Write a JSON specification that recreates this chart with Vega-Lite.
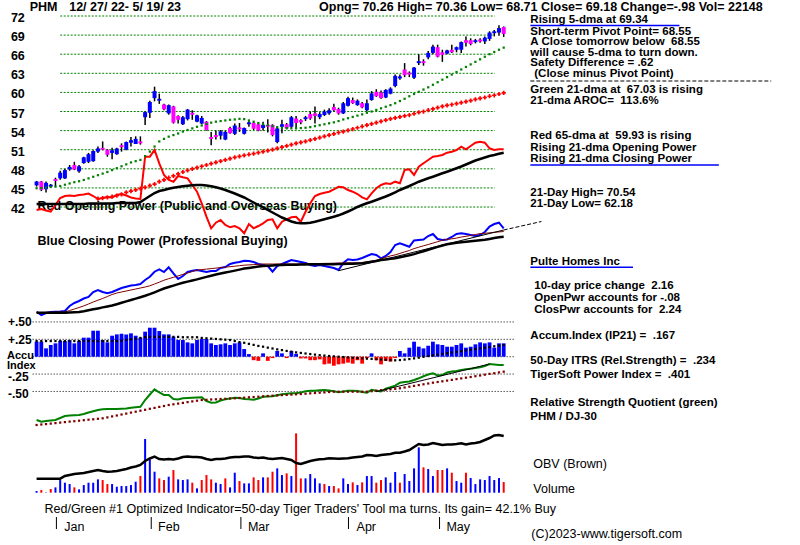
{
"$schema":"https://vega.github.io/schema/vega-lite/v6.json",
"width":800,"height":545,"padding":0,
"autosize":{"type":"fit","contains":"padding"},
"background":"white",
"config":{"view":{"stroke":null}},
"datasets":{
"d":[
{"i":0,"o":45.4,"h":46.1,"l":45.2,"c":46.0,"g":44.95,"op":10,"opm":13,"cp":9.15,"cpb":8.75,"cpk":8.65,"a":0.216,"am":0.225,"rs":10,"rsm":7.5,"v":3450,"vd":"up","ob":21.3},
{"i":1,"o":46.0,"h":46.1,"l":44.5,"c":44.7,"g":45.0,"op":10.5,"opm":13,"cp":7.5,"cpb":8.75,"cpk":8.65,"a":0.216,"am":0.225,"rs":9.15,"rsm":7.75,"v":5520,"vd":"dn","ob":21.3},
{"i":2,"o":44.8,"h":46.0,"l":44.3,"c":45.8,"g":45.05,"op":9.75,"opm":13,"cp":8.5,"cpb":8.8,"cpk":8.65,"a":0.12,"am":0.225,"rs":9.5,"rsm":7.95,"v":700,"vd":"up","ob":21.3},
{"i":3,"o":45.2,"h":45.6,"l":45.1,"c":45.5,"g":45.15,"op":9.15,"opm":13,"cp":9,"cpb":8.85,"cpk":8.65,"a":0.168,"am":0.225,"rs":9.75,"rsm":8.2,"v":7590,"vd":"dn","ob":21.3},
{"i":4,"o":46.4,"h":46.6,"l":45.2,"c":46.1,"g":45.2,"op":12.5,"opm":13,"cp":9.15,"cpb":8.9,"cpk":8.65,"a":0.192,"am":0.225,"rs":10,"rsm":8.45,"v":11040,"vd":"up","ob":21.3},
{"i":5,"o":46.5,"h":47.7,"l":46.3,"c":47.4,"g":45.3,"op":16,"opm":13,"cp":9.25,"cpb":8.95,"cpk":8.65,"a":0.23,"am":0.225,"rs":11,"rsm":8.7,"v":26220,"vd":"up","ob":21.3},
{"i":6,"o":46.5,"h":48.0,"l":46.4,"c":47.8,"g":45.5,"op":17,"opm":13,"cp":9.5,"cpb":9,"cpk":8.65,"a":0.226,"am":0.225,"rs":12,"rsm":8.95,"v":20700,"vd":"up","ob":24},
{"i":7,"o":47.9,"h":48.6,"l":47.7,"c":48.3,"g":45.7,"op":17.25,"opm":13,"cp":12,"cpb":9.75,"cpk":8.75,"a":0.24,"am":0.225,"rs":12.25,"rsm":9.2,"v":17940,"vd":"up","ob":25},
{"i":8,"o":48.6,"h":49.1,"l":47.8,"c":47.9,"g":45.9,"op":17,"opm":13,"cp":13.5,"cpb":10.5,"cpk":8.9,"a":0.192,"am":0.225,"rs":12.4,"rsm":9.4,"v":11040,"vd":"dn","ob":26},
{"i":9,"o":47.6,"h":48.6,"l":47.4,"c":48.4,"g":46.05,"op":17.5,"opm":13,"cp":14.5,"cpb":11.25,"cpk":9.05,"a":0.23,"am":0.225,"rs":12.5,"rsm":9.65,"v":6900,"vd":"up","ob":26.5},
{"i":10,"o":48.9,"h":49.9,"l":48.8,"c":49.8,"g":46.25,"op":17.75,"opm":13,"cp":15.75,"cpb":12.05,"cpk":9.35,"a":0.274,"am":0.225,"rs":13,"rsm":9.9,"v":15870,"vd":"up","ob":27},
{"i":11,"o":49.1,"h":50.5,"l":48.9,"c":50.3,"g":46.5,"op":18.25,"opm":13.25,"cp":16.5,"cpb":13,"cpk":9.85,"a":0.274,"am":0.225,"rs":13.75,"rsm":10.15,"v":20700,"vd":"up","ob":28},
{"i":12,"o":49.2,"h":50.9,"l":49.1,"c":50.8,"g":46.75,"op":17,"opm":13.25,"cp":19,"cpb":14,"cpk":10.35,"a":0.374,"am":0.225,"rs":14.4,"rsm":10.35,"v":20700,"vd":"up","ob":29},
{"i":13,"o":50.7,"h":51.5,"l":50.5,"c":51.2,"g":47.0,"r":43.3,"op":15.5,"opm":13.25,"cp":20,"cpb":14.9,"cpk":10.8,"a":0.374,"am":0.225,"rs":15,"rsm":10.6,"v":27600,"vd":"up","ob":30},
{"i":14,"o":51.3,"h":52.3,"l":50.9,"c":51.0,"g":47.25,"r":43.4,"op":16,"opm":13.25,"cp":19,"cpb":15.75,"cpk":11.3,"a":0.24,"am":0.225,"rs":15.35,"rsm":10.85,"v":26220,"vd":"dn","ob":29},
{"i":15,"o":51.0,"h":51.1,"l":49.9,"c":50.2,"g":47.5,"r":43.5,"op":16.5,"opm":13.25,"cp":18.35,"cpb":16.75,"cpk":11.75,"a":0.206,"am":0.225,"rs":15.5,"rsm":11.3,"v":17940,"vd":"dn","ob":28.3},
{"i":16,"o":50.5,"h":51.3,"l":49.5,"c":50.9,"g":47.8,"r":43.65,"op":16.25,"opm":13.25,"cp":19,"cpb":17.75,"cpk":12.25,"a":0.302,"am":0.225,"rs":15.5,"rsm":11.8,"v":17940,"vd":"up","ob":28.5},
{"i":17,"o":50.3,"h":51.3,"l":50.2,"c":51.2,"g":48.1,"r":43.8,"op":17.5,"opm":13.5,"cp":20,"cpb":18.5,"cpk":12.9,"a":0.321,"am":0.225,"rs":15.5,"rsm":12.25,"v":12420,"vd":"up","ob":29},
{"i":18,"o":51.7,"h":52.0,"l":50.7,"c":51.4,"g":48.4,"r":44.0,"op":18,"opm":13.5,"cp":21,"cpb":19,"cpk":13.6,"a":0.33,"am":0.23,"rs":15.6,"rsm":12.75,"v":13800,"vd":"up","ob":30},
{"i":19,"o":51.0,"h":52.3,"l":50.9,"c":52.2,"g":48.7,"r":44.3,"op":17.25,"opm":13.5,"cp":21.65,"cpb":19.5,"cpk":14.3,"a":0.321,"am":0.24,"rs":15.75,"rsm":13.2,"v":13800,"vd":"up","ob":31},
{"i":20,"o":52.1,"h":53.0,"l":51.5,"c":52.5,"g":49.0,"r":44.5,"op":16.25,"opm":13.5,"cp":22.25,"cpb":20,"cpk":15,"a":0.336,"am":0.25,"rs":16.15,"rsm":13.7,"v":15870,"vd":"up","ob":32.5},
{"i":21,"o":51.9,"h":53.1,"l":51.9,"c":52.7,"g":49.2,"r":44.7,"op":15.75,"opm":13.5,"cp":22.5,"cpb":20.5,"cpk":15.7,"a":0.302,"am":0.26,"rs":16.4,"rsm":14.15,"v":22770,"vd":"up","ob":33.5},
{"i":22,"o":52.3,"h":53.1,"l":51.8,"c":52.0,"g":49.4,"r":44.9,"op":15.5,"opm":14,"cp":23,"cpb":21,"cpk":16.4,"a":0.274,"am":0.27,"rs":16.6,"rsm":14.65,"v":34500,"vd":"dn","ob":35},
{"i":23,"o":56.1,"h":57.0,"l":54.9,"c":56.9,"g":50.0,"r":45.1,"op":36.65,"opm":15.5,"cp":25,"cpb":21.5,"cpk":17.1,"a":0.36,"am":0.28,"rs":20,"rsm":15.1,"v":111090,"vd":"up","ob":39},
{"i":24,"o":56.8,"h":58.7,"l":56.0,"c":58.5,"g":50.7,"r":45.35,"op":36.65,"opm":17,"cp":26.65,"cpb":22.1,"cpk":17.9,"a":0.417,"am":0.285,"rs":22.75,"rsm":15.6,"v":69000,"vd":"up","ob":41.5},
{"i":25,"o":59.1,"h":60.9,"l":58.6,"c":60.2,"g":51.5,"r":45.6,"op":40,"opm":18.5,"cp":29.15,"cpb":23,"cpk":18.85,"a":0.417,"am":0.285,"rs":25.35,"rsm":16.05,"v":43470,"vd":"up","ob":43.3},
{"i":26,"o":58.7,"h":59.8,"l":58.2,"c":59.0,"g":52.3,"r":46.0,"op":33.35,"opm":19.5,"cp":30.35,"cpb":23.9,"cpk":19.8,"a":0.369,"am":0.285,"rs":23.75,"rsm":16.55,"v":29670,"vd":"dn","ob":41},
{"i":27,"o":58.1,"h":58.2,"l":57.2,"c":57.35,"g":52.7,"r":46.25,"op":27.5,"opm":20,"cp":29,"cpb":24.9,"cpk":20.75,"a":0.321,"am":0.285,"rs":22.5,"rsm":17,"v":26220,"vd":"dn","ob":40.5},
{"i":28,"o":56.7,"h":58.1,"l":56.5,"c":58.0,"g":53.05,"r":46.6,"op":25,"opm":20.6,"cp":31.35,"cpb":25.65,"cpk":21.5,"a":0.321,"am":0.285,"rs":22.5,"rsm":17.5,"v":33120,"vd":"up","ob":41},
{"i":29,"o":57.8,"h":57.9,"l":55.1,"c":55.25,"g":53.3,"r":46.9,"op":24.15,"opm":21.1,"cp":28.35,"cpb":26.35,"cpk":22.2,"a":0.288,"am":0.285,"rs":20.5,"rsm":17.85,"v":46920,"vd":"dn","ob":40.5},
{"i":30,"o":56.3,"h":56.4,"l":55.1,"c":55.7,"g":53.55,"r":47.2,"op":27,"opm":21.5,"cp":25.5,"cpb":27.05,"cpk":22.95,"a":0.24,"am":0.285,"rs":20.25,"rsm":18.2,"v":27600,"vd":"up","ob":41.5},
{"i":31,"o":55.0,"h":56.3,"l":54.9,"c":56.1,"g":53.85,"r":47.5,"op":26.35,"opm":21.85,"cp":27,"cpb":27.8,"cpk":23.6,"a":0.24,"am":0.28,"rs":20.85,"rsm":18.55,"v":26220,"vd":"up","ob":43},
{"i":32,"o":55.8,"h":57.4,"l":55.6,"c":57.3,"g":54.1,"r":47.75,"op":25.85,"opm":22.1,"cp":29,"cpb":28.5,"cpk":24.2,"a":0.206,"am":0.28,"rs":21,"rsm":18.95,"v":27600,"vd":"up","ob":43.5},
{"i":33,"o":56.8,"h":57.2,"l":55.7,"c":56.5,"g":54.35,"r":48.0,"op":22.5,"opm":22.35,"cp":29.65,"cpb":29.25,"cpk":24.75,"a":0.192,"am":0.28,"rs":21.15,"rsm":19.3,"v":20700,"vd":"dn","ob":43},
{"i":34,"o":55.4,"h":56.5,"l":55.3,"c":56.4,"g":54.6,"r":48.2,"op":19.15,"opm":22.5,"cp":30,"cpb":29.95,"cpk":25.3,"a":0.24,"am":0.28,"rs":21.25,"rsm":19.65,"v":8970,"vd":"up","ob":43},
{"i":35,"o":55.1,"h":56.3,"l":55.0,"c":56.0,"g":54.8,"r":48.4,"op":13.35,"opm":22.5,"cp":29.5,"cpb":30.2,"cpk":25.95,"a":0.254,"am":0.27,"rs":21.35,"rsm":20,"v":26220,"vd":"dn","ob":42.5},
{"i":36,"o":55.4,"h":55.5,"l":54.0,"c":54.1,"g":55.05,"r":48.6,"op":6.65,"opm":22.25,"cp":29,"cpb":30.45,"cpk":26.55,"a":0.254,"am":0.265,"rs":19.5,"rsm":20.1,"v":36570,"vd":"dn","ob":41},
{"i":37,"o":53.0,"h":53.8,"l":51.7,"c":52.7,"g":55.25,"r":48.8,"op":0.85,"opm":21.85,"cp":29.5,"cpb":30.7,"cpk":27.15,"a":0.192,"am":0.26,"rs":18.65,"rsm":20.25,"v":27600,"vd":"dn","ob":40},
{"i":38,"o":53.3,"h":54.0,"l":52.6,"c":53.0,"g":55.4,"r":49.0,"op":3.65,"opm":21.35,"cp":29.5,"cpb":30.95,"cpk":27.75,"a":0.168,"am":0.255,"rs":18.75,"rsm":20.35,"v":20700,"vd":"up","ob":41},
{"i":39,"o":53.2,"h":54.1,"l":52.6,"c":53.9,"g":55.5,"r":49.2,"op":5,"opm":20.75,"cp":31,"cpb":31.2,"cpk":28.25,"a":0.178,"am":0.25,"rs":19.75,"rsm":20.5,"v":17940,"vd":"up","ob":41},
{"i":40,"o":52.6,"h":54.0,"l":52.5,"c":53.8,"g":55.6,"r":49.4,"op":2.5,"opm":20,"cp":31.5,"cpb":31.45,"cpk":28.7,"a":0.192,"am":0.245,"rs":20.35,"rsm":20.6,"v":29670,"vd":"dn","ob":41.5},
{"i":41,"o":54.4,"h":54.6,"l":53.5,"c":53.6,"g":55.7,"r":49.6,"op":1.35,"opm":19.15,"cp":33,"cpb":31.65,"cpk":29.2,"a":0.168,"am":0.24,"rs":20.75,"rsm":20.75,"v":11040,"vd":"up","ob":42.5},
{"i":42,"o":53.5,"h":55.1,"l":53.3,"c":54.8,"g":55.75,"r":49.8,"op":2,"opm":18.25,"cp":33.65,"cpb":31.9,"cpk":29.7,"a":0.192,"am":0.225,"rs":21.1,"rsm":20.85,"v":41400,"vd":"up","ob":43},
{"i":43,"o":54.5,"h":55.2,"l":53.8,"c":54.2,"g":55.85,"r":49.95,"op":0.85,"opm":17.25,"cp":34,"cpb":32.15,"cpk":30.2,"a":0.206,"am":0.21,"rs":21,"rsm":21,"v":24150,"vd":"dn","ob":43},
{"i":44,"o":53.5,"h":54.5,"l":53.4,"c":54.4,"g":55.8,"r":50.1,"op":-1.65,"opm":16.25,"cp":34.65,"cpb":32.4,"cpk":30.7,"a":0.11,"am":0.2,"rs":20.5,"rsm":21.15,"v":19320,"vd":"up","ob":43.5},
{"i":45,"o":55.0,"h":55.5,"l":54.6,"c":55.3,"g":55.6,"r":50.25,"op":3,"opm":15,"cp":34.5,"cpb":32.55,"cpk":31.05,"a":0.038,"am":0.185,"rs":20.35,"rsm":21.35,"v":19320,"vd":"up","ob":43.5},
{"i":46,"o":55.2,"h":55.4,"l":54.1,"c":54.3,"g":55.4,"r":50.4,"op":0.85,"opm":13.75,"cp":34,"cpb":32.7,"cpk":31.4,"a":-0.05,"am":0.17,"rs":20.15,"rsm":21.5,"v":31740,"vd":"dn","ob":42.5},
{"i":47,"o":55.0,"h":55.3,"l":53.9,"c":54.0,"g":55.2,"r":50.55,"op":2,"opm":12.5,"cp":33,"cpb":32.85,"cpk":31.7,"a":-0.06,"am":0.155,"rs":20.75,"rsm":21.65,"v":26220,"vd":"dn","ob":42},
{"i":48,"o":54.4,"h":55.4,"l":54.0,"c":54.9,"g":55.0,"r":50.7,"op":3.35,"opm":11.25,"cp":32.5,"cpb":33,"cpk":32,"a":0.048,"am":0.144,"rs":21.6,"rsm":21.85,"v":31740,"vd":"up","ob":42.5},
{"i":49,"o":54.9,"h":55.8,"l":53.7,"c":54.6,"g":54.85,"r":50.85,"op":5,"opm":10,"cp":32,"cpb":33,"cpk":32.15,"a":-0.06,"am":0.13,"rs":21.75,"rsm":22,"v":31740,"vd":"dn","ob":41.5},
{"i":50,"o":54.9,"h":55.0,"l":53.1,"c":53.3,"g":54.7,"r":51.0,"op":5.35,"opm":8.75,"cp":29.15,"cpb":33,"cpk":32.3,"a":-0.02,"am":0.118,"rs":21.85,"rsm":22.15,"v":43470,"vd":"dn","ob":41},
{"i":51,"o":52.2,"h":54.6,"l":52.0,"c":54.35,"g":54.55,"r":51.2,"op":0.85,"opm":7.5,"cp":32,"cpb":33,"cpk":32.45,"a":0.082,"am":0.105,"rs":22.4,"rsm":22.3,"v":50370,"vd":"up","ob":41.5},
{"i":52,"o":54.6,"h":55.7,"l":53.6,"c":55.0,"g":54.45,"r":51.4,"op":4.15,"opm":6.25,"cp":33,"cpb":33,"cpk":32.55,"a":0.048,"am":0.095,"rs":22.9,"rsm":22.45,"v":36570,"vd":"up","ob":42},
{"i":53,"o":55.0,"h":55.2,"l":54.2,"c":54.35,"g":54.4,"r":51.6,"op":5.35,"opm":5.25,"cp":34,"cpb":33,"cpk":32.6,"a":-0.02,"am":0.083,"rs":23.15,"rsm":22.55,"v":40020,"vd":"dn","ob":41},
{"i":54,"o":54.6,"h":56.3,"l":54.4,"c":56.1,"g":54.35,"r":51.8,"op":6.35,"opm":4.25,"cp":35,"cpb":33,"cpk":32.65,"a":0.082,"am":0.072,"rs":23.35,"rsm":22.7,"v":34500,"vd":"up","ob":40},
{"i":55,"o":55.9,"h":56.3,"l":54.3,"c":55.2,"g":54.35,"r":52.0,"op":6.65,"opm":3.65,"cp":34.5,"cpb":33,"cpk":32.65,"a":0.04,"am":0.062,"rs":23.35,"rsm":22.85,"v":122820,"vd":"dn","ob":37},
{"i":56,"o":55.65,"h":55.8,"l":55.0,"c":55.3,"g":54.4,"r":52.15,"op":4.15,"opm":3.35,"cp":34,"cpb":33.05,"cpk":32.75,"a":-0.025,"am":0.054,"rs":23.75,"rsm":23,"v":29670,"vd":"dn","ob":36},
{"i":57,"o":55.8,"h":56.3,"l":55.5,"c":56.1,"g":54.45,"r":52.3,"op":9.15,"opm":3.35,"cp":33.5,"cpb":33.1,"cpk":32.8,"a":-0.025,"am":0.046,"rs":24.35,"rsm":23.15,"v":29670,"vd":"up","ob":37.5},
{"i":58,"o":56.6,"h":57.0,"l":55.7,"c":55.9,"g":54.55,"r":52.5,"op":13.35,"opm":3.65,"cp":32.5,"cpb":33.15,"cpk":32.85,"a":-0.05,"am":0.038,"rs":24.6,"rsm":23.35,"v":38640,"vd":"up","ob":39},
{"i":59,"o":56.7,"h":57.8,"l":55.1,"c":56.3,"g":54.7,"r":52.7,"op":17,"opm":4.15,"cp":32,"cpb":33.2,"cpk":32.85,"a":-0.05,"am":0.03,"rs":24.65,"rsm":23.5,"v":29670,"vd":"up","ob":40},
{"i":60,"o":56.1,"h":56.9,"l":55.8,"c":56.6,"g":54.85,"r":52.9,"op":18,"opm":4.75,"cp":32.5,"cpb":33.25,"cpk":32.85,"a":-0.038,"am":0.022,"rs":24.85,"rsm":23.65,"v":19320,"vd":"up","ob":40.7},
{"i":61,"o":56.45,"h":57.3,"l":56.3,"c":57.0,"g":55.0,"r":53.1,"op":18.65,"opm":5.35,"cp":32,"cpb":33.3,"cpk":32.85,"a":-0.11,"am":0.016,"rs":25,"rsm":23.8,"v":17940,"vd":"dn","ob":41},
{"i":62,"o":56.7,"h":57.5,"l":56.5,"c":57.2,"g":55.15,"r":53.3,"op":19.15,"opm":6,"cp":31.5,"cpb":33.35,"cpk":32.85,"a":-0.1,"am":0.01,"rs":24.75,"rsm":24,"v":13800,"vd":"up","ob":41.7},
{"i":63,"o":57.7,"h":58.2,"l":57.0,"c":57.2,"g":55.3,"r":53.5,"op":20.35,"opm":6.65,"cp":31,"cpb":33.4,"cpk":32.9,"a":-0.13,"am":0.005,"rs":24.35,"rsm":24.15,"v":13800,"vd":"dn","ob":41.5},
{"i":64,"o":57.4,"h":57.6,"l":56.5,"c":56.7,"g":55.5,"r":53.7,"op":21.65,"opm":7.35,"cp":30,"cpb":33.45,"cpk":32.95,"a":-0.11,"am":0.0,"rs":23.85,"rsm":24.15,"v":8970,"vd":"dn","ob":41.3},
{"i":65,"o":56.7,"h":58.5,"l":56.6,"c":58.3,"g":55.75,"r":53.85,"op":21.35,"opm":8.25,"cp":33.5,"cpb":33.5,"cpk":33,"a":-0.1,"am":-0.005,"rs":24.25,"rsm":24.15,"v":29670,"vd":"up","ob":41.5},
{"i":66,"o":57.9,"h":59.3,"l":57.8,"c":59.1,"g":55.95,"r":54.05,"op":20,"opm":9.25,"cp":35.35,"cpb":33.55,"cpk":33.1,"a":-0.085,"am":-0.01,"rs":24.65,"rsm":24.15,"v":17940,"vd":"up","ob":41.7},
{"i":67,"o":58.8,"h":59.2,"l":58.2,"c":58.3,"g":56.15,"r":54.25,"op":19.15,"opm":10.35,"cp":35,"cpb":33.55,"cpk":33.15,"a":-0.1,"am":-0.015,"rs":24.65,"rsm":24.15,"v":21390,"vd":"dn","ob":42.5},
{"i":68,"o":58.0,"h":58.9,"l":57.9,"c":58.7,"g":56.35,"r":54.45,"op":18,"opm":11.5,"cp":35.25,"cpb":33.6,"cpk":33.25,"a":-0.05,"am":-0.02,"rs":24.5,"rsm":24.15,"v":15870,"vd":"up","ob":43},
{"i":69,"o":58.3,"h":58.5,"l":57.5,"c":57.65,"g":56.55,"r":54.65,"op":16.35,"opm":12.5,"cp":36,"cpb":33.65,"cpk":33.35,"a":-0.1,"am":-0.024,"rs":24,"rsm":24.15,"v":21390,"vd":"dn","ob":43.5},
{"i":70,"o":57.2,"h":58.9,"l":57.0,"c":58.3,"g":56.8,"r":54.85,"op":15.35,"opm":13.35,"cp":37,"cpb":34.05,"cpk":33.7,"a":-0.02,"am":-0.028,"rs":23.65,"rsm":24.15,"v":34500,"vd":"up","ob":45},
{"i":71,"o":58.8,"h":60.2,"l":58.7,"c":59.85,"g":57.0,"r":55.05,"op":18.35,"opm":14.15,"cp":38,"cpb":34.45,"cpk":34.1,"a":0.048,"am":-0.032,"rs":25.1,"rsm":24.4,"v":34500,"vd":"up","ob":44.8},
{"i":72,"o":60.1,"h":60.5,"l":59.3,"c":59.4,"g":57.25,"r":55.25,"op":20.85,"opm":15,"cp":37.5,"cpb":34.85,"cpk":34.5,"a":-0.05,"am":-0.036,"rs":24.6,"rsm":24.65,"v":20700,"vd":"dn","ob":44},
{"i":73,"o":60.0,"h":60.3,"l":59.0,"c":59.1,"g":57.5,"r":55.45,"op":22.5,"opm":15.85,"cp":35.85,"cpb":35.65,"cpk":34.95,"a":-0.11,"am":-0.04,"rs":24.25,"rsm":24.9,"v":26220,"vd":"dn","ob":45},
{"i":74,"o":59.2,"h":60.5,"l":59.1,"c":60.4,"g":57.75,"r":55.65,"op":23.35,"opm":16.75,"cp":37,"cpb":36.35,"cpk":35.3,"a":-0.06,"am":-0.045,"rs":25.65,"rsm":25.1,"v":31740,"vd":"up","ob":45.5},
{"i":75,"o":59.8,"h":60.8,"l":59.7,"c":60.6,"g":58.0,"r":55.85,"op":23,"opm":17.75,"cp":39,"cpb":37.05,"cpk":35.65,"a":-0.07,"am":-0.05,"rs":26.4,"rsm":25.35,"v":20700,"vd":"up","ob":46},
{"i":76,"o":61.0,"h":62.8,"l":60.8,"c":62.6,"g":58.3,"r":56.0,"op":24.15,"opm":18.85,"cp":42.5,"cpb":37.55,"cpk":35.9,"a":-0.02,"am":-0.052,"rs":27.15,"rsm":25.6,"v":42780,"vd":"up","ob":47.3},
{"i":77,"o":62.2,"h":62.8,"l":62.0,"c":62.5,"g":58.65,"r":56.15,"op":23.35,"opm":20,"cp":43.35,"cpb":38.3,"cpk":36.4,"a":0.082,"am":-0.048,"rs":28.65,"rsm":25.85,"v":20700,"vd":"dn","ob":47.3},
{"i":78,"o":63.6,"h":64.6,"l":62.4,"c":62.7,"g":59.0,"r":56.3,"op":30,"opm":21,"cp":42.5,"cpb":39.05,"cpk":36.85,"a":0.048,"am":-0.042,"rs":29,"rsm":26.25,"v":38640,"vd":"up","ob":48.5},
{"i":79,"o":63.1,"h":63.3,"l":62.4,"c":62.8,"g":59.4,"r":56.45,"op":30.35,"opm":22,"cp":41.65,"cpb":39.75,"cpk":37.35,"a":0.13,"am":-0.034,"rs":29.25,"rsm":26.65,"v":24150,"vd":"up","ob":50},
{"i":80,"o":62.3,"h":64.0,"l":62.1,"c":63.9,"g":59.75,"r":56.65,"op":27.5,"opm":23.1,"cp":44.75,"cpb":40.7,"cpk":37.95,"a":0.216,"am":-0.024,"rs":30,"rsm":27.05,"v":50370,"vd":"up","ob":53},
{"i":81,"o":64.6,"h":66.0,"l":64.3,"c":64.9,"g":60.1,"r":56.85,"op":31.65,"opm":24.15,"cp":45,"cpb":41.4,"cpk":38.7,"a":0.144,"am":-0.014,"rs":30.85,"rsm":27.45,"v":93840,"vd":"up","ob":56},
{"i":82,"o":64.9,"h":65.2,"l":64.2,"c":64.6,"g":60.45,"r":57.0,"op":33.35,"opm":25,"cp":45.25,"cpb":42.1,"cpk":39.4,"a":0.12,"am":-0.002,"rs":31.85,"rsm":27.85,"v":52440,"vd":"dn","ob":55},
{"i":83,"o":65.5,"h":66.5,"l":65.2,"c":66.2,"g":60.8,"r":57.2,"op":35,"opm":25.85,"cp":47,"cpb":42.75,"cpk":40.15,"a":0.158,"am":0.01,"rs":32.75,"rsm":28.25,"v":48990,"vd":"up","ob":55.5},
{"i":84,"o":66.2,"h":67.5,"l":66.0,"c":67.2,"g":61.2,"r":57.4,"op":36.65,"opm":26.65,"cp":48,"cpb":43.45,"cpk":40.85,"a":0.216,"am":0.02,"rs":33.35,"rsm":28.65,"v":34500,"vd":"up","ob":57},
{"i":85,"o":67.1,"h":67.5,"l":65.5,"c":65.6,"g":61.6,"r":57.6,"op":37,"opm":27.5,"cp":45.5,"cpb":44.15,"cpk":41.55,"a":0.178,"am":0.03,"rs":32.25,"rsm":29,"v":46920,"vd":"dn","ob":56},
{"i":86,"o":66.3,"h":66.7,"l":64.8,"c":65.9,"g":62.0,"r":57.8,"op":37.5,"opm":28.35,"cp":45,"cpb":44.85,"cpk":42.25,"a":0.168,"am":0.04,"rs":32.5,"rsm":29.35,"v":46920,"vd":"dn","ob":55},
{"i":87,"o":66.1,"h":66.7,"l":66.0,"c":66.6,"g":62.4,"r":57.95,"op":38.65,"opm":29.15,"cp":45.25,"cpb":45.3,"cpk":42.85,"a":0.144,"am":0.05,"rs":33.75,"rsm":29.7,"v":50370,"vd":"up","ob":55.5},
{"i":88,"o":66.7,"h":67.5,"l":66.2,"c":66.3,"g":62.8,"r":58.1,"op":39.15,"opm":30,"cp":46.5,"cpb":45.6,"cpk":43.2,"a":0.144,"am":0.06,"rs":34.25,"rsm":30.05,"v":41400,"vd":"dn","ob":55.5},
{"i":89,"o":66.7,"h":67.2,"l":66.3,"c":67.1,"g":63.2,"r":58.25,"op":40,"opm":30.85,"cp":48,"cpb":45.95,"cpk":43.6,"a":0.168,"am":0.07,"rs":34.5,"rsm":30.45,"v":24150,"vd":"up","ob":56},
{"i":90,"o":66.7,"h":68.0,"l":66.2,"c":67.9,"g":63.6,"r":58.4,"op":41.65,"opm":31.75,"cp":48.35,"cpb":46.5,"cpk":43.85,"a":0.192,"am":0.08,"rs":35,"rsm":30.8,"v":20700,"vd":"up","ob":56.7},
{"i":91,"o":68.2,"h":68.8,"l":67.2,"c":67.8,"g":64.0,"r":58.55,"op":40.35,"opm":32.75,"cp":48,"cpb":46.85,"cpk":44.1,"a":0.13,"am":0.09,"rs":35.35,"rsm":31.15,"v":41400,"vd":"dn","ob":55.5},
{"i":92,"o":68.2,"h":68.5,"l":67.4,"c":67.6,"g":64.4,"r":58.7,"op":42,"opm":33.75,"cp":47.5,"cpb":47.25,"cpk":44.4,"a":0.144,"am":0.1,"rs":35.65,"rsm":31.5,"v":30360,"vd":"up","ob":56.5},
{"i":93,"o":67.9,"h":68.4,"l":67.7,"c":68.2,"g":64.8,"r":58.9,"op":43.65,"opm":34.75,"cp":47,"cpb":47.75,"cpk":44.65,"a":0.178,"am":0.11,"rs":36,"rsm":31.9,"v":17940,"vd":"up","ob":57},
{"i":94,"o":68.3,"h":68.5,"l":67.8,"c":68.0,"g":65.2,"r":59.05,"op":44.15,"opm":35.5,"cp":47.5,"cpb":48.2,"cpk":44.9,"a":0.206,"am":0.12,"rs":36.4,"rsm":32.25,"v":27600,"vd":"up","ob":58},
{"i":95,"o":68.0,"h":68.8,"l":67.6,"c":68.6,"g":65.6,"r":59.2,"op":43.65,"opm":36.25,"cp":49,"cpb":48.35,"cpk":45.15,"a":0.192,"am":0.13,"rs":37,"rsm":32.65,"v":26220,"vd":"up","ob":60},
{"i":96,"o":68.4,"h":69.6,"l":68.1,"c":69.4,"g":66.0,"r":59.4,"op":40.85,"opm":37,"cp":51.75,"cpb":48.6,"cpk":45.55,"a":0.206,"am":0.14,"rs":38,"rsm":33.05,"v":34500,"vd":"up","ob":62},
{"i":97,"o":69.3,"h":69.8,"l":68.8,"c":69.6,"g":66.35,"r":59.55,"op":40,"opm":37.5,"cp":53,"cpb":48.85,"cpk":45.95,"a":0.13,"am":0.15,"rs":37.75,"rsm":33.4,"v":26220,"vd":"up","ob":64.5},
{"i":98,"o":69.4,"h":70.54,"l":68.9,"c":70.1,"g":66.7,"r":59.75,"op":40.35,"opm":38.1,"cp":53.65,"cpb":49.05,"cpk":46.35,"a":0.192,"am":0.16,"rs":37.5,"rsm":33.8,"v":30360,"vd":"up","ob":65},
{"i":99,"o":70.26,"h":70.36,"l":68.71,"c":69.18,"g":67.03,"r":59.93,"op":40.35,"opm":38.65,"cp":50.85,"cpb":49.25,"cpk":46.65,"a":0.192,"am":0.168,"rs":37.5,"rsm":34.15,"v":22080,"vd":"dn","ob":64}
],
"pg":[{"p":72},{"p":69},{"p":66},{"p":63},{"p":60},{"p":57},{"p":54},{"p":51},{"p":48},{"p":45},{"p":42}],
"pl":[{"p":72,"t":"72"},{"p":69,"t":"69"},{"p":66,"t":"66"},{"p":63,"t":"63"},{"p":60,"t":"60"},{"p":57,"t":"57"},{"p":54,"t":"54"},{"p":51,"t":"51"},{"p":48,"t":"48"},{"p":45,"t":"45"},{"p":42,"t":"42"}],
"ag":[{"a":0.5},{"a":0.25},{"a":0},{"a":-0.25},{"a":-0.5}],
"alp":[{"a":0.5,"t":"+.50"},{"a":0.25,"t":"+.25"}],
"aln":[{"a":-0.25,"t":"-.25"},{"a":-0.5,"t":"-.50"}],
"ct":[{"i":64,"t":29.65},{"i":99,"t":50}],
"ctd":[{"i":99,"t":50},{"i":107,"t":54.25}],
"rt":[{"i":72,"t":24.15},{"i":96,"t":38}],
"mt":[{"i":4.2},{"i":24.3},{"i":43.3},{"i":66.1},{"i":85.4}],
"ul":[{"x1":104.646,"x2":136.25,"ty":2.55},{"x1":104.646,"x2":144.6,"ty":16.5},{"x1":104.646,"x2":126.4,"ty":26.73}],
"sep":[{"x1":104.646,"x2":155.7,"ty":8.1}],
"th":[
{"tx":-1.465,"ty":0.65,"t":"PHM"},
{"tx":6.907,"ty":0.65,"t":"12/ 27/ 22- 5/ 19/ 23"},
{"tx":59.858,"ty":0.65,"t":"Opng= 70.26 High= 70.36 Low= 68.71 Close= 69.18 Change=-.98 Vol= 22148"},
{"tx":0.209,"ty":20.6,"t":"Red Opening Power (Public and Overseas Buying)"},
{"tx":0.209,"ty":24.1,"t":"Blue Closing Power (Professional Buying)"}
],
"ta":[
{"tx":-6.279,"ty":35.55,"t":"Accu"},
{"tx":-6.279,"ty":36.6,"t":"Index"}
],
"tb":[
{"tx":104.646,"ty":2.0,"t":"Rising 5-dma at 69.34"},
{"tx":104.646,"ty":3.15,"t":"Short-term Pivot Point= 68.55"},
{"tx":104.646,"ty":4.2,"t":"A Close tomorrow below\u00a0 68.55"},
{"tx":104.646,"ty":5.25,"t":"will cause 5-dma to turn down."},
{"tx":104.646,"ty":6.3,"t":"Safety Difference = .62"},
{"tx":105.483,"ty":7.35,"t":"(Close minus Pivot Point)"},
{"tx":104.646,"ty":9.0,"t":"Green 21-dma at\u00a0 67.03 is rising"},
{"tx":104.646,"ty":10.1,"t":"21-dma AROC=\u00a0 113.6%"},
{"tx":104.646,"ty":13.55,"t":"Red 65-dma at\u00a0 59.93 is rising"},
{"tx":104.646,"ty":14.75,"t":"Rising 21-dma Opening Power"},
{"tx":104.646,"ty":15.9,"t":"Rising 21-dma Closing Power"},
{"tx":104.646,"ty":19.25,"t":"21-Day High= 70.54"},
{"tx":104.646,"ty":20.4,"t":"21-Day Low= 62.18"},
{"tx":104.646,"ty":26.15,"t":"Pulte Homes Inc"},
{"tx":105.483,"ty":28.6,"t":"10-day price change\u00a0 2.16"},
{"tx":105.483,"ty":29.8,"t":"OpenPwr accounts for -.08"},
{"tx":105.483,"ty":31.0,"t":"ClosPwr accounts for\u00a0 2.24"},
{"tx":104.646,"ty":33.6,"t":"Accum.Index (IP21) =\u00a0 .167"},
{"tx":104.646,"ty":36.05,"t":"50-Day ITRS (Rel.Strength) =\u00a0 .234"},
{"tx":104.646,"ty":37.5,"t":"TigerSoft Power Index =\u00a0 .401"},
{"tx":104.646,"ty":40.3,"t":"Relative Strength Quotient (green)"},
{"tx":104.646,"ty":41.65,"t":"PHM / DJ-30"}
],
"tr":[
{"tx":105.274,"ty":46.35,"t":"OBV (Brown)"},
{"tx":105.274,"ty":48.9,"t":"Volume"},
{"tx":1.674,"ty":50.9,"t":"Red/Green #1 Optimized Indicator=50-day Tiger Traders' Tool ma turns. Its gain= 42.1% Buy"},
{"tx":5.86,"ty":52.7,"t":"Jan"},
{"tx":25.743,"ty":52.7,"t":"Feb"},
{"tx":44.789,"ty":52.7,"t":"Mar"},
{"tx":67.811,"ty":52.7,"t":"Apr"},
{"tx":86.856,"ty":52.7,"t":"May"},
{"tx":104.855,"ty":53.4,"t":"(C)2023-www.tigersoft.com"}
]
},
"resolve":{"scale":{"y":"independent","color":"independent"}},
"layer":[
{"data":{"name":"th"},"mark":{"type":"text","align":"left","baseline":"middle","font":"Liberation Sans","fontWeight":"bold","fontSize":12.5,"color":"black"},
 "encoding":{"x":{"field":"tx","type":"quantitative","scale":{"domain":[-6.697,160.74],"nice":false,"zero":false},"axis":null},
 "y":{"field":"ty","type":"quantitative","scale":{"domain":[0,54.5],"reverse":true,"nice":false,"zero":false},"axis":null},"text":{"field":"t"}}},
{"data":{"name":"tb"},"mark":{"type":"text","align":"left","baseline":"middle","font":"Liberation Sans","fontWeight":"bold","fontSize":11.5,"color":"black"},
 "encoding":{"x":{"field":"tx","type":"quantitative","scale":{"domain":[-6.697,160.74],"nice":false,"zero":false},"axis":null},
 "y":{"field":"ty","type":"quantitative","scale":{"domain":[0,54.5],"reverse":true,"nice":false,"zero":false},"axis":null},"text":{"field":"t"}}},
{"data":{"name":"ta"},"mark":{"type":"text","align":"left","baseline":"middle","font":"Liberation Sans","fontWeight":"bold","fontSize":11,"color":"black"},
 "encoding":{"x":{"field":"tx","type":"quantitative","scale":{"domain":[-6.697,160.74],"nice":false,"zero":false},"axis":null},
 "y":{"field":"ty","type":"quantitative","scale":{"domain":[0,54.5],"reverse":true,"nice":false,"zero":false},"axis":null},"text":{"field":"t"}}},
{"data":{"name":"tr"},"mark":{"type":"text","align":"left","baseline":"middle","font":"Liberation Sans","fontSize":12.5,"color":"black"},
 "encoding":{"x":{"field":"tx","type":"quantitative","scale":{"domain":[-6.697,160.74],"nice":false,"zero":false},"axis":null},
 "y":{"field":"ty","type":"quantitative","scale":{"domain":[0,54.5],"reverse":true,"nice":false,"zero":false},"axis":null},"text":{"field":"t"}}},
{"data":{"name":"pl"},"mark":{"type":"text","align":"left","baseline":"middle","dy":2,"font":"Liberation Sans","fontWeight":"bold","fontSize":12.5,"color":"black"},
 "encoding":{"x":{"datum":-5.442,"type":"quantitative","scale":{"domain":[-6.697,160.74],"nice":false,"zero":false},"axis":null},
 "y":{"field":"p","type":"quantitative","scale":{"domain":[-11.08,74.513],"nice":false,"zero":false},"axis":null},"text":{"field":"t"}}},
{"data":{"name":"alp"},"mark":{"type":"text","align":"left","baseline":"middle","dy":0.5,"font":"Liberation Sans","fontWeight":"bold","fontSize":12,"color":"black"},
 "encoding":{"x":{"datum":-6.07,"type":"quantitative","scale":{"domain":[-6.697,160.74],"nice":false,"zero":false},"axis":null},
 "y":{"field":"a","type":"quantitative","scale":{"domain":[-2.7094,5.1324],"nice":false,"zero":false},"axis":null},"text":{"field":"t"}}},
{"data":{"name":"aln"},"mark":{"type":"text","align":"left","baseline":"middle","dy":2.5,"font":"Liberation Sans","fontWeight":"bold","fontSize":12,"color":"black"},
 "encoding":{"x":{"datum":-6.07,"type":"quantitative","scale":{"domain":[-6.697,160.74],"nice":false,"zero":false},"axis":null},
 "y":{"field":"a","type":"quantitative","scale":{"domain":[-2.7094,5.1324],"nice":false,"zero":false},"axis":null},"text":{"field":"t"}}},
{"data":{"name":"pg"},"mark":{"type":"rule","color":"#008000","strokeWidth":1,"strokeDash":[2,1.5]},
 "encoding":{"x":{"datum":5.0,"type":"quantitative","scale":{"domain":[-6.697,160.74],"nice":false,"zero":false},"axis":null},"x2":{"datum":97.1},
 "y":{"field":"p","type":"quantitative","scale":{"domain":[-11.08,74.513],"nice":false,"zero":false},"axis":null}}},
{"data":{"name":"ag"},"mark":{"type":"rule","color":"black","strokeWidth":1,"strokeDash":[1,2]},
 "encoding":{"x":{"datum":-0.84,"type":"quantitative","scale":{"domain":[-6.697,160.74],"nice":false,"zero":false},"axis":null},"x2":{"datum":101.5},
 "y":{"field":"a","type":"quantitative","scale":{"domain":[-2.7094,5.1324],"nice":false,"zero":false},"axis":null}}},
{"data":{"name":"d"},"mark":{"type":"line","color":"#ff0000","strokeWidth":2},
 "encoding":{"x":{"field":"i","type":"quantitative","scale":{"domain":[-6.697,160.74],"nice":false,"zero":false},"axis":null},
 "y":{"field":"op","type":"quantitative","scale":{"domain":[-157.5,115],"nice":false,"zero":false},"axis":null}}},
{"data":{"name":"d"},"mark":{"type":"line","color":"black","strokeWidth":2.5},
 "encoding":{"x":{"field":"i","type":"quantitative","scale":{"domain":[-6.697,160.74],"nice":false,"zero":false},"axis":null},
 "y":{"field":"opm","type":"quantitative","scale":{"domain":[-157.5,115],"nice":false,"zero":false},"axis":null}}},
{"data":{"name":"d"},"mark":{"type":"rule","color":"black","strokeWidth":1.5},
 "encoding":{"x":{"field":"i","type":"quantitative","scale":{"domain":[-6.697,160.74],"nice":false,"zero":false},"axis":null},
 "y":{"field":"l","type":"quantitative","scale":{"domain":[-11.08,74.513],"nice":false,"zero":false},"axis":null},"y2":{"field":"h"}}},
{"data":{"name":"d"},"mark":{"type":"bar","size":4},
 "encoding":{"x":{"field":"i","type":"quantitative","scale":{"domain":[-6.697,160.74],"nice":false,"zero":false},"axis":null},
 "y":{"field":"o","type":"quantitative","scale":{"domain":[-11.08,74.513],"nice":false,"zero":false},"axis":null},"y2":{"field":"c"},
 "color":{"condition":{"test":"datum.c > datum.o","value":"#0000ff"},"value":"#ff00ff"}}},
{"data":{"name":"d"},"mark":{"type":"point","shape":"square","filled":true,"size":5,"color":"#008000","opacity":1},
 "encoding":{"x":{"field":"i","type":"quantitative","scale":{"domain":[-6.697,160.74],"nice":false,"zero":false},"axis":null},
 "y":{"field":"g","type":"quantitative","scale":{"domain":[-11.08,74.513],"nice":false,"zero":false},"axis":null}}},
{"data":{"name":"d"},"transform":[{"filter":"isValid(datum.r)"}],"mark":{"type":"point","shape":"cross","filled":true,"size":18,"color":"#ff0000","opacity":1},
 "encoding":{"x":{"field":"i","type":"quantitative","scale":{"domain":[-6.697,160.74],"nice":false,"zero":false},"axis":null},
 "y":{"field":"r","type":"quantitative","scale":{"domain":[-11.08,74.513],"nice":false,"zero":false},"axis":null}}},
{"data":{"name":"d"},"mark":{"type":"line","color":"#0000ff","strokeWidth":2},
 "encoding":{"x":{"field":"i","type":"quantitative","scale":{"domain":[-6.697,160.74],"nice":false,"zero":false},"axis":null},
 "y":{"field":"cp","type":"quantitative","scale":{"domain":[-107.5,165],"nice":false,"zero":false},"axis":null}}},
{"data":{"name":"d"},"mark":{"type":"line","color":"#800000","strokeWidth":1},
 "encoding":{"x":{"field":"i","type":"quantitative","scale":{"domain":[-6.697,160.74],"nice":false,"zero":false},"axis":null},
 "y":{"field":"cpb","type":"quantitative","scale":{"domain":[-107.5,165],"nice":false,"zero":false},"axis":null}}},
{"data":{"name":"d"},"mark":{"type":"line","color":"black","strokeWidth":2.5},
 "encoding":{"x":{"field":"i","type":"quantitative","scale":{"domain":[-6.697,160.74],"nice":false,"zero":false},"axis":null},
 "y":{"field":"cpk","type":"quantitative","scale":{"domain":[-107.5,165],"nice":false,"zero":false},"axis":null}}},
{"data":{"name":"ct"},"mark":{"type":"line","color":"black","strokeWidth":1},
 "encoding":{"x":{"field":"i","type":"quantitative","scale":{"domain":[-6.697,160.74],"nice":false,"zero":false},"axis":null},
 "y":{"field":"t","type":"quantitative","scale":{"domain":[-107.5,165],"nice":false,"zero":false},"axis":null}}},
{"data":{"name":"ctd"},"mark":{"type":"line","color":"black","strokeWidth":1,"strokeDash":[4,2]},
 "encoding":{"x":{"field":"i","type":"quantitative","scale":{"domain":[-6.697,160.74],"nice":false,"zero":false},"axis":null},
 "y":{"field":"t","type":"quantitative","scale":{"domain":[-107.5,165],"nice":false,"zero":false},"axis":null}}},
{"data":{"name":"d"},"mark":{"type":"bar","size":3.8},
 "encoding":{"x":{"field":"i","type":"quantitative","scale":{"domain":[-6.697,160.74],"nice":false,"zero":false},"axis":null},
 "y":{"field":"a","type":"quantitative","scale":{"domain":[-2.7094,5.1324],"nice":false,"zero":false},"axis":null},"y2":{"datum":0},
 "color":{"condition":{"test":"datum.a >= 0","value":"#0000ff"},"value":"#ff0000"}}},
{"data":{"name":"d"},"mark":{"type":"point","shape":"square","filled":true,"size":5,"color":"black","opacity":1},
 "encoding":{"x":{"field":"i","type":"quantitative","scale":{"domain":[-6.697,160.74],"nice":false,"zero":false},"axis":null},
 "y":{"field":"am","type":"quantitative","scale":{"domain":[-2.7094,5.1324],"nice":false,"zero":false},"axis":null}}},
{"data":{"name":"d"},"mark":{"type":"line","color":"#008000","strokeWidth":2},
 "encoding":{"x":{"field":"i","type":"quantitative","scale":{"domain":[-6.697,160.74],"nice":false,"zero":false},"axis":null},
 "y":{"field":"rs","type":"quantitative","scale":{"domain":[-52.5,220],"nice":false,"zero":false},"axis":null}}},
{"data":{"name":"d"},"mark":{"type":"point","shape":"square","filled":true,"size":5,"color":"#800000","opacity":1},
 "encoding":{"x":{"field":"i","type":"quantitative","scale":{"domain":[-6.697,160.74],"nice":false,"zero":false},"axis":null},
 "y":{"field":"rsm","type":"quantitative","scale":{"domain":[-52.5,220],"nice":false,"zero":false},"axis":null}}},
{"data":{"name":"rt"},"mark":{"type":"line","color":"black","strokeWidth":1},
 "encoding":{"x":{"field":"i","type":"quantitative","scale":{"domain":[-6.697,160.74],"nice":false,"zero":false},"axis":null},
 "y":{"field":"t","type":"quantitative","scale":{"domain":[-52.5,220],"nice":false,"zero":false},"axis":null}}},
{"data":{"name":"d"},"mark":{"type":"rule","strokeWidth":2},
 "encoding":{"x":{"field":"i","type":"quantitative","scale":{"domain":[-6.697,160.74],"nice":false,"zero":false},"axis":null},
 "y":{"field":"v","type":"quantitative","scale":{"domain":[-108261,1019889],"nice":false,"zero":false},"axis":null},"y2":{"datum":0},
 "color":{"field":"vd","type":"nominal","scale":{"domain":["up","dn"],"range":["#0000ff","#ff0000"]},"legend":null}}},
{"data":{"name":"d"},"mark":{"type":"line","color":"black","strokeWidth":2.5},
 "encoding":{"x":{"field":"i","type":"quantitative","scale":{"domain":[-6.697,160.74],"nice":false,"zero":false},"axis":null},
 "y":{"field":"ob","type":"quantitative","scale":{"domain":[-45,500],"nice":false,"zero":false},"axis":null}}},
{"data":{"name":"mt"},"mark":{"type":"rule","color":"black","strokeWidth":1},
 "encoding":{"x":{"field":"i","type":"quantitative","scale":{"domain":[-6.697,160.74],"nice":false,"zero":false},"axis":null},
 "y":{"datum":51.7,"type":"quantitative","scale":{"domain":[0,54.5],"reverse":true,"nice":false,"zero":false},"axis":null},"y2":{"datum":52.9}}},
{"data":{"name":"ul"},"mark":{"type":"rule","color":"#0000ff","strokeWidth":1.5},
 "encoding":{"x":{"field":"x1","type":"quantitative","scale":{"domain":[-6.697,160.74],"nice":false,"zero":false},"axis":null},"x2":{"field":"x2"},
 "y":{"field":"ty","type":"quantitative","scale":{"domain":[0,54.5],"reverse":true,"nice":false,"zero":false},"axis":null}}},
{"data":{"name":"sep"},"mark":{"type":"rule","color":"black","strokeWidth":1,"strokeDash":[4,2]},
 "encoding":{"x":{"field":"x1","type":"quantitative","scale":{"domain":[-6.697,160.74],"nice":false,"zero":false},"axis":null},"x2":{"field":"x2"},
 "y":{"field":"ty","type":"quantitative","scale":{"domain":[0,54.5],"reverse":true,"nice":false,"zero":false},"axis":null}}}
]
}
